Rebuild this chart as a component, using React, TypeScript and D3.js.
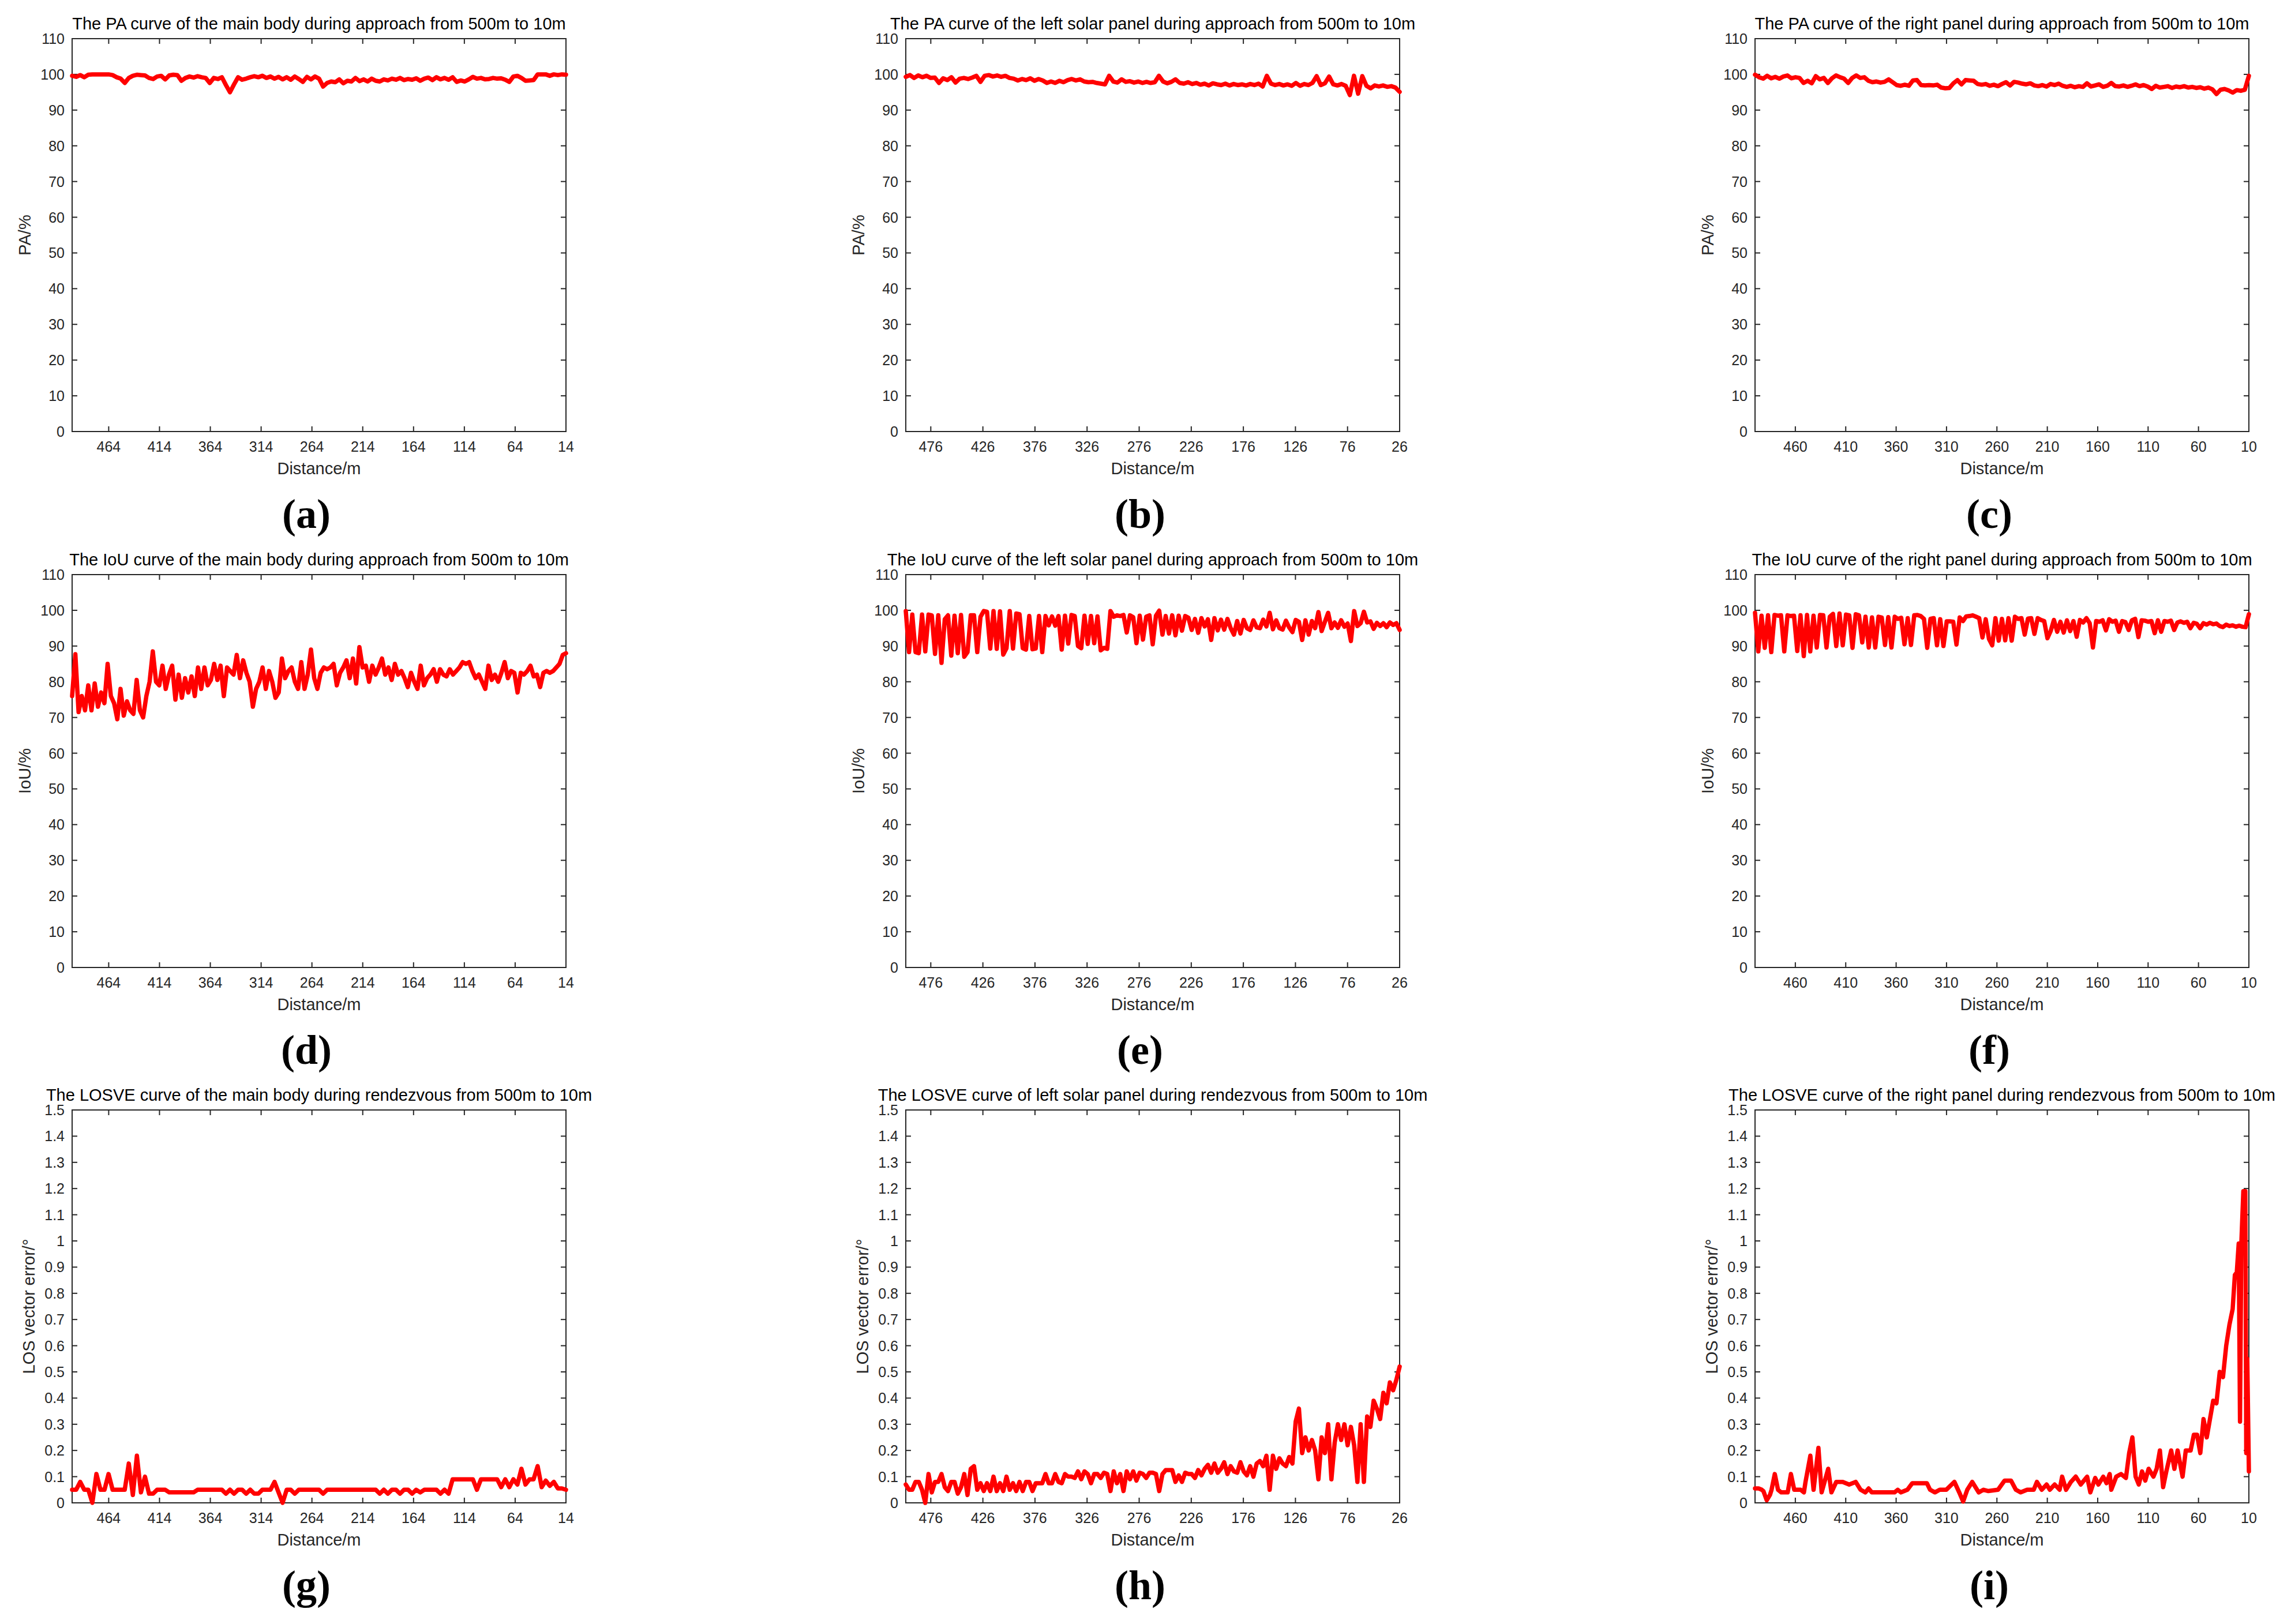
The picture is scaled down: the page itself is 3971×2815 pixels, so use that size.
import React from 'react';
import * as d3 from 'd3';

// figure size and the grid of 3x3 plot boxes
const W = 3971;
const H = 2815;
const PW = 856;
const PH = 681;
const colLeft = [125, 1570, 3042];
const rowTop = [67, 996, 1924];

const FONT = '"Liberation Sans", Arial, Helvetica, sans-serif';
const AX = '#262626';

// x axis ends (distance runs from 500 m down to these)
const xEnds = [14, 26, 10];

// PA curves (%), evenly spaced from 500 m to the axis end
const paMain = [
  99.6, 99.3, 99.8, 99.2, 99.9, 100, 100, 100, 100, 100,
  99.8, 99.2, 98.8, 97.6, 99.0, 99.6, 99.9, 99.8, 99.7, 99.0,
  98.7, 99.4, 99.6, 98.6, 99.7, 99.9, 99.8, 98.2, 99.0, 99.4,
  99.1, 99.5, 99.2, 99.0, 97.6, 99.0, 98.7, 99.2, 97.0, 95.0,
  97.2, 99.2, 98.5, 98.8, 99.2, 99.5, 99.2, 99.6, 99.0, 99.4,
  98.8, 99.3, 98.6, 99.2, 98.5, 99.4, 98.7, 97.9, 99.3, 98.6,
  99.4, 98.8, 96.6, 97.6, 98.0, 97.8, 98.6, 97.5, 98.2, 98.0,
  99.0, 98.1, 98.6, 98.0, 98.8, 98.2, 98.0, 98.6, 98.3, 98.8,
  98.5, 99.0, 98.4, 98.7, 98.5, 98.9, 98.2, 98.8, 99.1, 98.4,
  99.2, 98.6, 99.0, 98.5, 99.2, 97.9, 98.3, 98.0, 98.6, 99.3,
  98.8, 99.0, 98.6, 98.7, 99.0, 98.8, 98.9, 98.5, 97.9, 99.4,
  99.6, 99.0, 98.2, 98.3, 98.4, 100, 100, 100, 99.6, 100,
  99.8, 100, 99.9,
];

const paLeft = [
  99.3, 99.8, 99.0, 99.7, 99.2, 99.6, 99.0, 99.1, 97.6, 98.9,
  98.4, 99.2, 97.7, 98.8, 99.0, 98.7, 99.1, 99.6, 97.9, 99.6,
  99.8, 99.4, 99.7, 99.3, 99.6, 99.0, 98.8, 98.3, 98.7, 98.4,
  98.9, 98.2, 98.7, 98.3, 97.6, 98.0, 97.6, 98.2, 97.8, 98.4,
  98.7, 98.3, 98.6, 98.0, 97.8, 97.9, 97.6, 97.4, 97.2, 99.6,
  98.0, 97.7, 98.6, 97.9, 98.1, 97.7, 98.0, 97.6, 97.9, 97.6,
  97.8, 99.6, 98.0, 97.5, 97.9, 98.6, 97.6, 97.4, 97.8, 97.3,
  97.6, 97.1, 97.4, 96.9, 97.5, 97.2, 97.0, 97.4, 96.9, 97.3,
  97.0, 97.2, 96.9, 97.3, 97.0, 97.4, 96.6, 99.6, 97.4, 97.0,
  97.3, 96.9, 97.2, 96.8, 97.6, 96.8, 97.3, 97.0, 97.6, 99.5,
  97.0, 97.5, 99.4, 97.2, 96.9, 97.3, 96.8, 94.2, 99.6, 94.6,
  99.5, 96.8, 96.1, 96.9, 96.6, 96.9, 96.5, 96.7, 96.3, 95.1,
];

const paRight = [
  99.9, 99.2, 98.8, 99.6, 98.9, 99.3, 98.8, 99.4, 99.7, 98.9,
  99.2, 99.0, 97.6, 98.2, 97.5, 99.5, 98.6, 99.0, 97.6, 98.9,
  99.7, 99.2, 98.8, 97.6, 99.0, 99.7, 99.0, 99.2, 98.2, 97.8,
  98.0, 97.7, 97.9, 98.6, 97.8, 97.0, 96.8, 97.1, 96.8, 98.3,
  98.4, 97.0, 96.9, 97.0, 96.9, 97.1, 96.3, 96.1, 96.2, 97.5,
  98.4, 97.2, 98.4, 98.3, 98.2, 97.3, 97.1, 97.3, 96.8, 97.1,
  96.7, 97.3, 97.8, 96.9, 97.9, 97.7, 97.4, 97.2, 97.5, 96.9,
  96.7, 97.0, 96.6, 97.3, 97.0, 97.4, 96.8, 96.5, 96.8, 96.4,
  96.7, 96.5, 97.5, 96.6, 96.9, 97.2, 96.5, 96.8, 97.6, 96.7,
  96.6, 96.9, 96.5, 96.8, 97.2, 96.7, 97.0, 96.6, 95.9, 96.8,
  96.3, 96.5, 96.7, 96.2, 96.6, 96.4, 96.7, 96.3, 96.5, 96.2,
  96.4, 96.0, 96.3, 95.8, 94.5, 95.7, 95.9, 95.5, 94.9, 95.6,
  95.4, 95.7, 99.6,
];

// IoU curves (%)
const iouMain = [
  76, 87.7, 71.5, 76, 72, 79, 72, 79.5, 73, 77,
  74, 85, 76, 74, 69.5, 78, 70.5, 74.5, 72, 71,
  80.5, 72, 70, 76, 80, 88.5, 80, 79, 84.5, 78,
  82, 84.5, 75, 82, 75.5, 81, 77, 81.5, 76, 84,
  78, 84, 79, 80.5, 85, 80.5, 84.5, 76, 84, 83,
  82, 87.5, 81, 86, 82.5, 80, 73, 78, 80, 84,
  78, 83, 80, 75.5, 77, 86.5, 81, 83, 84, 80,
  78, 85.5, 78, 82, 89, 81, 78, 82.5, 84, 83.5,
  84, 85, 79, 82.5, 84, 86, 81, 86.5, 79.5, 89.7,
  84, 84.5, 80, 84.5, 82, 84, 86.5, 82, 84, 80.5,
  85, 82, 83, 81, 78.5, 82.5, 80, 78, 84.5, 79,
  81, 82, 83.5, 80, 83.5, 82, 81.5, 83.5, 82, 83,
  84, 85.5, 85, 85.5, 83, 81, 82, 80, 78, 84.5,
  80.5, 82, 80, 82.5, 85.5, 81, 83, 82.5, 77, 82.5,
  82, 83, 84.5, 81.5, 82, 78.5, 82.5, 83, 82.5, 83,
  84, 85, 87.5, 88,
];

const iouLeft = [
  99.8, 88.3, 98.8, 88.3, 88.0, 98.8, 88.5, 98.8, 98.6, 87.8,
  98.6, 85.3, 97.5, 98.6, 87.3, 98.5, 88.0, 98.7, 87.0, 88.3,
  98.6, 98.6, 88.3, 98.2, 99.8, 99.6, 89.3, 99.8, 89.2, 99.7,
  87.6, 89.4, 99.8, 89.3, 99.1, 98.9, 89.4, 89.0, 98.4, 89.1,
  89.3, 98.4, 88.3, 98.4, 95.8, 98.3, 95.7, 98.4, 89.0, 98.5,
  90.7, 98.7, 98.4, 90.0, 89.4, 98.5, 90.6, 98.4, 90.8, 98.3,
  88.8, 89.5, 89.2, 99.8, 98.2, 98.6, 98.4, 98.7, 93.8, 98.6,
  98.1, 90.8, 98.5, 91.8, 98.2, 98.6, 90.5, 98.5, 99.9, 93.2,
  98.4, 93.5, 98.6, 93.0, 98.5, 94.3, 98.4, 97.9, 94.5, 97.6,
  93.7, 97.8, 95.5, 97.5, 91.7, 97.8, 94.4, 97.4, 94.6, 97.6,
  95.0, 93.2, 97.0, 93.5, 97.3, 95.0, 94.5, 97.2, 95.2, 95.0,
  97.4, 95.5, 99.3, 94.7, 97.2, 95.0, 94.6, 97.1, 95.2, 93.9,
  97.3, 96.8, 91.7, 97.2, 93.2, 97.0, 95.0, 99.5, 94.2, 96.8,
  99.3, 95.0, 96.6, 95.1, 97.2, 95.4, 96.3, 91.4, 99.8, 95.6,
  96.4, 99.6, 96.6, 96.9, 94.8, 96.5, 95.6, 96.4, 95.3, 96.6,
  95.9, 96.4, 94.5,
];

const iouRight = [
  99.3, 88.5, 98.5, 89.5, 98.6, 88.3, 98.7, 98.5, 98.6, 88.5,
  98.6, 98.4, 98.5, 88.6, 98.6, 87.2, 98.7, 88.5, 98.5, 89.6,
  98.7, 98.6, 89.6, 98.2, 99.0, 90.0, 99.1, 90.2, 98.8, 98.6,
  89.5, 98.9, 98.6, 91.0, 98.2, 89.6, 98.0, 89.6, 98.2, 98.0,
  90.3, 98.1, 89.6, 98.2, 97.6, 97.9, 90.5, 97.8, 90.3, 98.6,
  98.7, 98.4, 97.6, 89.5, 97.6, 97.8, 90.2, 97.5, 90.0, 96.9,
  96.9, 96.8, 90.4, 98.0, 97.0, 98.3, 98.4, 98.6, 98.2, 97.8,
  92.4, 97.5, 92.0, 90.2, 97.8, 91.5, 97.6, 91.6, 97.8, 91.5,
  98.2, 97.6, 97.8, 93.2, 97.7, 97.8, 93.4, 97.8, 97.3, 97.0,
  92.2, 94.2, 97.3, 94.0, 96.8, 93.8, 97.2, 94.2, 97.0, 92.6,
  97.3, 96.6, 97.8, 96.4, 89.6, 97.0, 96.8, 97.2, 94.4, 97.5,
  96.8, 97.1, 94.0, 97.0, 96.7, 94.5, 97.2, 97.6, 92.5, 97.2,
  97.1, 96.8, 97.0, 93.6, 97.2, 94.0, 97.0, 96.8, 97.1, 94.5,
  96.6, 96.9, 96.5, 96.8, 95.0, 96.5, 96.2, 95.0, 96.4, 96.0,
  96.5, 96.1, 96.3, 95.6, 95.3, 96.0, 95.6, 95.8, 95.4, 95.7,
  95.4, 95.3, 98.9,
];

// LOS vector error (deg)
const losMain = [
  0.05, 0.05, 0.08, 0.05, 0.05, 0.0, 0.11, 0.05, 0.05, 0.11,
  0.05, 0.05, 0.05, 0.05, 0.15, 0.03, 0.18, 0.04, 0.1, 0.035,
  0.035, 0.05, 0.05, 0.05, 0.04, 0.04, 0.04, 0.04, 0.04, 0.04,
  0.04, 0.05, 0.05, 0.05, 0.05, 0.05, 0.05, 0.05, 0.035, 0.05,
  0.035, 0.05, 0.05, 0.035, 0.05, 0.035, 0.035, 0.05, 0.05, 0.05,
  0.08, 0.04, 0.0, 0.05, 0.05, 0.035, 0.05, 0.05, 0.05, 0.05,
  0.05, 0.05, 0.035, 0.05, 0.05, 0.05, 0.05, 0.05, 0.05, 0.05,
  0.05, 0.05, 0.05, 0.05, 0.05, 0.05, 0.035, 0.05, 0.035, 0.05,
  0.05, 0.035, 0.05, 0.05, 0.035, 0.05, 0.04, 0.05, 0.05, 0.05,
  0.05, 0.035, 0.05, 0.035, 0.09, 0.09, 0.09, 0.09, 0.09, 0.09,
  0.05, 0.09, 0.09, 0.09, 0.09, 0.09, 0.06, 0.09, 0.06, 0.09,
  0.07, 0.13, 0.07, 0.09, 0.09, 0.14, 0.06, 0.085, 0.065, 0.08,
  0.055, 0.055, 0.05,
];

const losLeft = [
  0.07, 0.05, 0.05, 0.08, 0.08, 0.05, 0.0, 0.11, 0.04, 0.08,
  0.08, 0.11, 0.06, 0.045, 0.08, 0.08, 0.035, 0.06, 0.11, 0.03,
  0.13, 0.14, 0.05, 0.075, 0.045, 0.075, 0.045, 0.1, 0.045, 0.075,
  0.045, 0.1, 0.05, 0.075, 0.045, 0.08, 0.045, 0.08, 0.08, 0.045,
  0.075, 0.075, 0.075, 0.11, 0.075, 0.075, 0.11, 0.08, 0.075, 0.11,
  0.1, 0.1, 0.095, 0.12, 0.09, 0.12, 0.11, 0.075, 0.11, 0.11,
  0.095, 0.115, 0.11, 0.045, 0.12, 0.075, 0.11, 0.045, 0.12, 0.09,
  0.12, 0.085, 0.115, 0.11, 0.095, 0.115, 0.115, 0.11, 0.045, 0.11,
  0.125, 0.125, 0.125, 0.08, 0.105, 0.08, 0.115, 0.11, 0.11, 0.095,
  0.125, 0.105, 0.13, 0.145, 0.115, 0.15, 0.115, 0.13, 0.155, 0.11,
  0.14, 0.12, 0.115, 0.155, 0.12, 0.105, 0.14, 0.1, 0.15, 0.16,
  0.14, 0.18, 0.05, 0.18, 0.13, 0.17, 0.15, 0.14, 0.175, 0.15,
  0.31, 0.36, 0.19, 0.25, 0.2, 0.24, 0.2, 0.09, 0.25, 0.19,
  0.3, 0.09, 0.23, 0.3, 0.24, 0.3, 0.22, 0.29, 0.22, 0.08,
  0.3, 0.08, 0.33, 0.29, 0.39, 0.36, 0.32, 0.42, 0.38, 0.46,
  0.43, 0.47, 0.52,
];

// right panel LOS error as [distance m, error deg]
const losRight: [number, number][] = [
  [500, 0.055], [496.5, 0.055], [493.3, 0.05], [491.7, 0.045], [488.4, 0.01],
  [485.2, 0.03], [483.6, 0.05], [480.4, 0.11], [477.2, 0.05], [474.0, 0.04],
  [467.6, 0.04], [464.4, 0.11], [461.1, 0.05], [454.7, 0.05], [451.5, 0.04],
  [449.9, 0.08], [445.1, 0.18], [441.9, 0.05], [437.1, 0.21], [433.9, 0.04],
  [427.4, 0.13], [424.2, 0.04], [419.4, 0.08], [413.0, 0.08], [406.6, 0.07],
  [400.1, 0.08], [395.3, 0.05], [390.5, 0.04], [387.3, 0.055], [384.1, 0.04],
  [361.6, 0.04], [358.4, 0.05], [355.2, 0.04], [348.8, 0.05], [344.0, 0.075],
  [329.5, 0.075], [326.3, 0.05], [321.5, 0.04], [316.7, 0.05], [310.2, 0.05],
  [302.2, 0.08], [297.4, 0.04], [293.5, 0.005], [289.4, 0.05], [284.5, 0.08],
  [278.1, 0.04], [273.3, 0.05], [268.5, 0.045], [258.9, 0.05], [252.4, 0.085],
  [246.0, 0.085], [241.2, 0.05], [236.4, 0.04], [230.0, 0.05], [223.5, 0.05],
  [220.3, 0.08], [215.5, 0.05], [210.7, 0.07], [207.5, 0.05], [202.7, 0.07],
  [197.8, 0.05], [195.3, 0.1], [191.4, 0.05], [186.6, 0.08], [181.8, 0.1],
  [176.8, 0.07], [170.5, 0.1], [167.3, 0.04], [162.5, 0.095], [159.3, 0.07],
  [154.5, 0.1], [151.3, 0.075], [148.1, 0.11], [146.5, 0.05], [141.6, 0.1],
  [136.8, 0.11], [132.0, 0.095], [128.8, 0.19], [125.6, 0.25], [122.4, 0.1],
  [119.2, 0.07], [116.0, 0.12], [112.8, 0.085], [109.5, 0.13], [104.7, 0.1],
  [101.5, 0.13], [98.3, 0.2], [95.1, 0.06], [91.9, 0.12], [87.1, 0.2],
  [83.9, 0.13], [80.7, 0.2], [75.8, 0.1], [72.6, 0.2], [67.8, 0.2],
  [64.6, 0.26], [61.4, 0.26], [58.2, 0.19], [55.0, 0.32], [51.8, 0.25],
  [48.6, 0.32], [45.4, 0.39], [42.2, 0.38], [38.9, 0.5], [35.7, 0.48],
  [32.5, 0.6], [29.3, 0.68], [26.1, 0.74], [23.9, 0.87], [22.0, 0.88],
  [20.1, 0.99], [18.8, 0.31], [17.5, 0.99], [15.5, 1.19], [13.5, 1.19],
  [12.6, 0.19], [11.6, 0.55], [10.0, 0.12],
];

const titles = [
  'The PA curve of the main body during approach from 500m to 10m',
  'The PA curve of the left solar panel during approach from 500m to 10m',
  'The PA curve of the right panel during approach from 500m to 10m',
  'The IoU curve of the main body during approach from 500m to 10m',
  'The IoU curve of the left solar panel during approach from 500m to 10m',
  'The IoU curve of the right panel during approach from 500m to 10m',
  'The LOSVE curve of the main body during rendezvous from 500m to 10m',
  'The LOSVE curve of left solar panel during rendezvous from 500m to 10m',
  'The LOSVE curve of the right panel during rendezvous from 500m to 10m',
];
const yLabels = ['PA/%', 'IoU/%', 'LOS vector error/\u00b0'];
const tags = ['a', 'b', 'c', 'd', 'e', 'f', 'g', 'h', 'i'];
const series: (number[] | [number, number][])[] = [
  paMain, paLeft, paRight, iouMain, iouLeft, iouRight, losMain, losLeft, losRight,
];

// spread an evenly sampled series over 500 m .. end
function toPoints(s: number[] | [number, number][], end: number): [number, number][] {
  if (Array.isArray(s[0])) return s as [number, number][];
  const vals = s as number[];
  const xi = d3.scaleLinear().domain([0, vals.length - 1]).range([500, end]);
  return vals.map((v, i) => [xi(i), v]);
}

function Panel({ idx }: { idx: number }) {
  const row = Math.floor(idx / 3);
  const col = idx % 3;
  const end = xEnds[col];
  const los = row === 2;
  const yMax = los ? 1.5 : 110;
  const yStep = los ? 0.1 : 10;

  const x = d3.scaleLinear().domain([500, end]).range([0, PW]);
  const y = d3.scaleLinear().domain([0, yMax]).range([PH, 0]);
  const xt = d3.range(end, 500, 50);
  const yt = d3.range(0, Math.round(yMax / yStep) + 1).map(i => i * yStep);
  const fmt = d3.format('~g');
  const line = d3.line<[number, number]>().x(d => x(d[0])).y(d => y(d[1]));
  const pts = toPoints(series[idx], end);
  const tl = 9;

  return (
    <g transform={`translate(${colLeft[col]},${rowTop[row]})`}>
      <rect x={0} y={0} width={PW} height={PH} fill="#fff" stroke={AX} strokeWidth={2} />
      {xt.map(t => (
        <g key={'x' + t}>
          <line x1={x(t)} x2={x(t)} y1={PH} y2={PH - tl} stroke={AX} strokeWidth={2} />
          <line x1={x(t)} x2={x(t)} y1={0} y2={tl} stroke={AX} strokeWidth={2} />
          <text x={x(t)} y={PH + 35} textAnchor="middle" fontSize={25} fill={AX}>{t}</text>
        </g>
      ))}
      {yt.map(t => (
        <g key={'y' + t}>
          <line x1={0} x2={tl} y1={y(t)} y2={y(t)} stroke={AX} strokeWidth={2} />
          <line x1={PW} x2={PW - tl} y1={y(t)} y2={y(t)} stroke={AX} strokeWidth={2} />
          <text x={-13} y={y(t)} dy="0.36em" textAnchor="end" fontSize={25} fill={AX}>{fmt(t)}</text>
        </g>
      ))}
      <path d={line(pts) || ''} fill="none" stroke="#ff0000" strokeWidth={7.5}
        strokeLinejoin="round" strokeLinecap="round" />
      <text x={PW / 2} y={-16} textAnchor="middle" fontSize={29} fill="#000">{titles[idx]}</text>
      <text x={PW / 2} y={PH + 74} textAnchor="middle" fontSize={29} fill={AX}>Distance/m</text>
      <text transform={`translate(${los ? -65 : -72},${PH / 2}) rotate(-90)`} textAnchor="middle"
        fontSize={29} fill={AX}>{yLabels[row]}</text>
      <text x={PW / 2 - 22} y={848} textAnchor="middle" fontSize={72} fontWeight="bold"
        fontFamily='"Liberation Serif", "DejaVu Serif", serif' fill="#000">
        ({tags[idx]})
      </text>
    </g>
  );
}

export default function App() {
  return (
    <svg width={W} height={H} viewBox={`0 0 ${W} ${H}`}
      style={{ position: 'absolute', left: 0, top: 0, background: '#fff' }}
      fontFamily={FONT}>
      <rect x={0} y={0} width={W} height={H} fill="#fff" />
      {d3.range(9).map(i => <Panel key={i} idx={i} />)}
    </svg>
  );
}
